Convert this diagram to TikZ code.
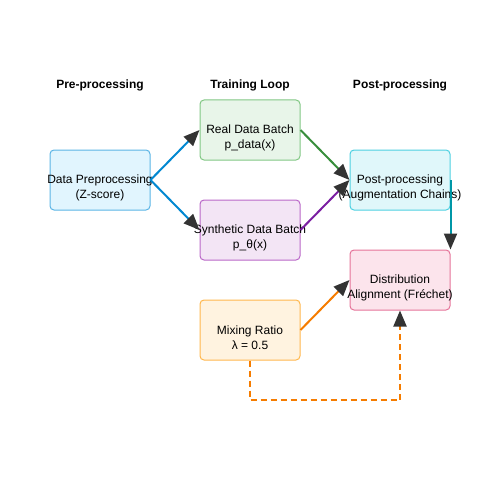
\documentclass[tikz,border=0pt]{standalone}
\usepackage{fontspec}
\setmainfont{Liberation Sans}
\usetikzlibrary{arrows.meta}
\definecolor{preFill}{HTML}{E1F5FE}
\definecolor{preLine}{HTML}{5AB4E5}
\definecolor{preArrow}{HTML}{0288D1}
\definecolor{realFill}{HTML}{E8F5E9}
\definecolor{realLine}{HTML}{81C784}
\definecolor{realArrow}{HTML}{388E3C}
\definecolor{synFill}{HTML}{F3E5F5}
\definecolor{synLine}{HTML}{BA68C8}
\definecolor{synArrow}{HTML}{7B1FA2}
\definecolor{postFill}{HTML}{E0F7FA}
\definecolor{postLine}{HTML}{4DD0E1}
\definecolor{postArrow}{HTML}{0097A7}
\definecolor{distFill}{HTML}{FCE4EC}
\definecolor{distLine}{HTML}{E57399}
\definecolor{mixFill}{HTML}{FFF3E0}
\definecolor{mixLine}{HTML}{FFB74D}
\definecolor{mixArrow}{HTML}{F57C00}
\tikzset{
  box/.style={rectangle, rounded corners=4pt, minimum width=100pt, minimum height=60pt, line width=1pt},
  boxtext/.style={font=\fontsize{12}{15}\selectfont, align=center, yshift=-8pt},
  title/.style={font=\fontsize{12}{14}\selectfont\bfseries},
  flow/.style={line width=2pt, -{Triangle[length=16pt,width=13pt,color=black!80]}}
}
\begin{document}
\begin{tikzpicture}[x=1pt,y=-1pt]
    \useasboundingbox (0,0) rectangle (500,500);

    % Draw the column titles
    \node[title] (tpre) at (100,85) {Pre-processing};
    \node[title] (tloop) at (250,85) {Training Loop};
    \node[title] (tpost) at (400,85) {Post-processing};

    % Draw the boxes
    \node[box, draw=preLine, fill=preFill, label={[boxtext]center:Data Preprocessing\\(Z-score)}] (pre) at (100,180) {};
    \node[box, draw=realLine, fill=realFill, label={[boxtext]center:Real Data Batch\\p\_data(x)}] (real) at (250,130) {};
    \node[box, draw=synLine, fill=synFill, label={[boxtext]center:Synthetic Data Batch\\p\_θ(x)}] (syn) at (250,230) {};
    \node[box, draw=postLine, fill=postFill, label={[boxtext]center:Post-processing\\(Augmentation Chains)}] (post) at (400,180) {};
    \node[box, draw=distLine, fill=distFill, label={[boxtext]center:Distribution\\Alignment (Fréchet)}] (dist) at (400,280) {};
    \node[box, draw=mixLine, fill=mixFill, label={[boxtext]center:Mixing Ratio\\λ = 0.5}] (mix) at (250,330) {};

    % Draw the arrows
    \draw[flow, preArrow] (pre.east) -- (real.west);
    \draw[flow, preArrow] (pre.east) -- (syn.west);
    \draw[flow, realArrow] (real.east) -- (post.west);
    \draw[flow, synArrow] (syn.east) -- (post.west);
    \draw[flow, postArrow] (post.east) -- (dist.north east);
    \draw[flow, mixArrow] (mix.east) -- (dist.west);

    % Draw the dashed return line
    \coordinate (low) at (250,400);
    \draw[flow, mixArrow, dash pattern=on 6pt off 4pt] (mix.south) -- (low) -| (dist.south);
\end{tikzpicture}
\end{document}
